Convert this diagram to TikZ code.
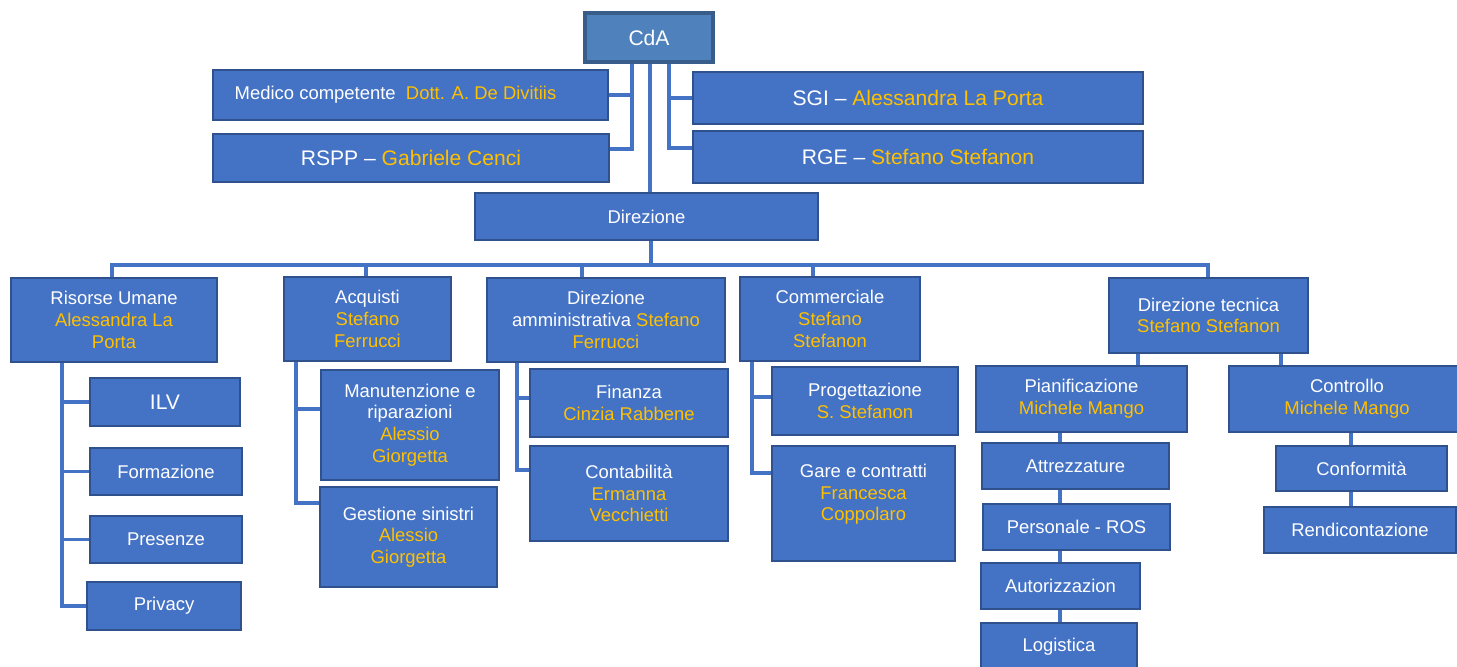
\documentclass[tikz,border=0pt]{standalone}
\usepackage{fontspec}
\setmainfont{Liberation Sans}
\definecolor{boxblue}{HTML}{4472C4}
\definecolor{boxedge}{HTML}{2F528F}
\definecolor{topblue}{HTML}{4F81BD}
\definecolor{topedge}{HTML}{385D8A}
\definecolor{nameyellow}{HTML}{FFC000}
\newcommand{\persona}[1]{\textcolor{nameyellow}{#1}}

\begin{document}
\begin{tikzpicture}[
        x=0.02cm, y=-0.02cm,
        box/.style={
            rectangle,
            draw=boxedge,
            fill=boxblue,
            line width=1.4pt,
            text=white,
            align=center,
            inner sep=1pt,
            font=\fontsize{10.5}{12.3}\selectfont
        },
        topbox/.style={
            box,
            draw=topedge,
            fill=topblue,
            line width=2.2pt
        },
        big/.style={
            font=\fontsize{12}{14}\selectfont
        },
        conn/.style={
            draw=boxblue,
            line width=2.2pt
        }
    ]
    \useasboundingbox (0,0) rectangle (1457,666);

    % Board and staff
    \node[topbox, big, minimum width=2.56cm, minimum height=0.98cm] (cda) at (649,37.5) {CdA};
    \node[box, minimum width=7.9cm, minimum height=1cm] (medico) at (410.5,95) {Medico competente\ \ \persona{Dott. A. De Divitiis}\hspace*{0.6cm}};
    \node[box, big, minimum width=7.92cm, minimum height=0.96cm] (rspp) at (411,158) {RSPP -- \persona{Gabriele Cenci}};
    \node[box, big, minimum width=9cm, minimum height=1.04cm] (sgi) at (918,98) {SGI -- \persona{Alessandra La Porta}};
    \node[box, big, minimum width=9cm, minimum height=1.04cm] (rge) at (918,157) {RGE -- \persona{Stefano Stefanon}};
    \node[box, minimum width=6.86cm, minimum height=0.94cm] (dir) at (646.5,216.5) {Direzione};

    % Second level
    \node[box, minimum width=4.12cm, minimum height=1.68cm] (ru) at (114,320) {Risorse Umane\\\persona{Alessandra La}\\\persona{Porta}};
    \node[box, minimum width=3.34cm, minimum height=1.68cm] (acq) at (367.5,319) {Acquisti\\\persona{Stefano}\\\persona{Ferrucci}};
    \node[box, minimum width=4.76cm, minimum height=1.68cm] (dam) at (606,320) {Direzione\\amministrativa \persona{Stefano}\\\persona{Ferrucci}};
    \node[box, minimum width=3.6cm, minimum height=1.68cm] (comm) at (830,319) {Commerciale\\\persona{Stefano}\\\persona{Stefanon}};
    \node[box, minimum width=3.98cm, minimum height=1.5cm] (dtec) at (1208.5,315.5) {Direzione tecnica\\\persona{Stefano Stefanon}};

    % Risorse Umane offices
    \node[box, big, minimum width=3cm, minimum height=0.96cm] (ilv) at (165,402) {ILV};
    \node[box, minimum width=3.04cm, minimum height=0.94cm] (form) at (166,471.5) {Formazione};
    \node[box, minimum width=3.04cm, minimum height=0.94cm] (pres) at (166,539.5) {Presenze};
    \node[box, minimum width=3.08cm, minimum height=0.96cm] (priv) at (164,606) {Privacy};

    % Acquisti offices
    \node[box, minimum width=3.56cm, minimum height=2.2cm] (manut) at (410,425) {Manutenzione e\\riparazioni\\\persona{Alessio}\\\persona{Giorgetta}};
    \node[box, minimum width=3.54cm, minimum height=2cm] (gest) at (408.5,537) {Gestione sinistri\\\persona{Alessio}\\\persona{Giorgetta}};

    % Amministrazione offices
    \node[box, minimum width=3.96cm, minimum height=1.36cm] (fin) at (629,403) {Finanza\\\persona{Cinzia Rabbene}};
    \node[box, minimum width=3.96cm, minimum height=1.9cm] (cont) at (629,493.5) {Contabilità\\\persona{Ermanna}\\\persona{Vecchietti}};

    % Commerciale offices
    \node[box, minimum width=3.72cm, minimum height=1.36cm] (prog) at (865,401) {Progettazione\\\persona{S. Stefanon}};
    \node[box, minimum width=3.66cm, minimum height=2.3cm] (gare) at (863.5,503.5) {Gare e contratti\\\persona{Francesca}\\\persona{Coppolaro}\\};

    % Direzione tecnica offices
    \node[box, minimum width=4.22cm, minimum height=1.32cm] (pian) at (1081.5,399) {Pianificazione\\\persona{Michele Mango}};
    \node[box, minimum width=4.72cm, minimum height=1.32cm] (ctrl) at (1347,399) {Controllo\\\persona{Michele Mango}};
    \node[box, minimum width=3.74cm, minimum height=0.92cm] (attr) at (1075.5,466) {Attrezzature};
    \node[box, minimum width=3.74cm, minimum height=0.92cm] (pers) at (1076.5,527) {Personale - ROS};
    \node[box, minimum width=3.18cm, minimum height=0.92cm] (aut) at (1060.5,586) {Autorizzazion};
    \node[box, minimum width=3.12cm, minimum height=0.96cm] (log) at (1059,647) {Logistica};
    \node[box, minimum width=3.42cm, minimum height=0.9cm] (conf) at (1361.5,468.5) {Conformità};
    \node[box, minimum width=3.84cm, minimum height=0.92cm] (rend) at (1360,530) {Rendicontazione};

    % Spines
    \coordinate (lspine) at (632,0);
    \coordinate (rspine) at (669,0);
    \coordinate (mspine) at (650,0);
    \coordinate (ruspine) at (62,0);
    \coordinate (acqspine) at (296,0);
    \coordinate (damspine) at (517,0);
    \coordinate (commspine) at (752,0);
    \coordinate (pspine) at (1060,0);
    \coordinate (cspine) at (1351,0);

    % Connections - staff
    \draw[conn] (cda.south -| lspine) |- (rspp.east |- 0,149);
    \draw[conn] (medico.east -| lspine) -- (medico.east);
    \draw[conn] (cda.south -| rspine) |- (rge.west |- 0,148);
    \draw[conn] (sgi.west -| rspine) -- (sgi.west);
    \draw[conn] (cda.south -| mspine) -- (dir.north -| mspine);

    % Connections - bus to second level
    \draw[conn] (dir.south -| 651,0) -- ++(0,26);
    \draw[conn] (ru.north -| 112,0) -- ++(0,-12) -| (dtec.north -| 1208,0);
    \draw[conn] (acq.north -| 366,0) -- ++(0,-11);
    \draw[conn] (dam.north -| 582,0) -- ++(0,-12);
    \draw[conn] (comm.north -| 813,0) -- ++(0,-11);

    % Connections - third level
    \draw[conn] (ru.south -| ruspine) |- (priv.west);
    \draw[conn] (ilv.west -| ruspine) -- (ilv.west);
    \draw[conn] (form.west -| ruspine) -- (form.west);
    \draw[conn] (pres.west -| ruspine) -- (pres.west);

    \draw[conn] (acq.south -| acqspine) |- (gest.west |- 0,503);
    \draw[conn] (acqspine |- 0,409) -- (manut.west |- 0,409);

    \draw[conn] (dam.south -| damspine) |- (cont.west |- 0,470);
    \draw[conn] (damspine |- 0,398) -- (fin.west |- 0,398);

    \draw[conn] (comm.south -| commspine) |- (gare.west |- 0,473);
    \draw[conn] (commspine |- 0,397) -- (prog.west |- 0,397);

    \draw[conn] (dtec.south -| 1138,0) -- (pian.north -| 1138,0);
    \draw[conn] (dtec.south -| 1281,0) -- (ctrl.north -| 1281,0);
    \draw[conn] (pian.south -| pspine) -- (attr.north -| pspine);
    \draw[conn] (attr.south -| pspine) -- (pers.north -| pspine);
    \draw[conn] (pers.south -| pspine) -- (aut.north -| pspine);
    \draw[conn] (aut.south -| pspine) -- (log.north -| pspine);
    \draw[conn] (ctrl.south -| cspine) -- (conf.north -| cspine);
    \draw[conn] (conf.south -| cspine) -- (rend.north -| cspine);

\end{tikzpicture}
\end{document}
